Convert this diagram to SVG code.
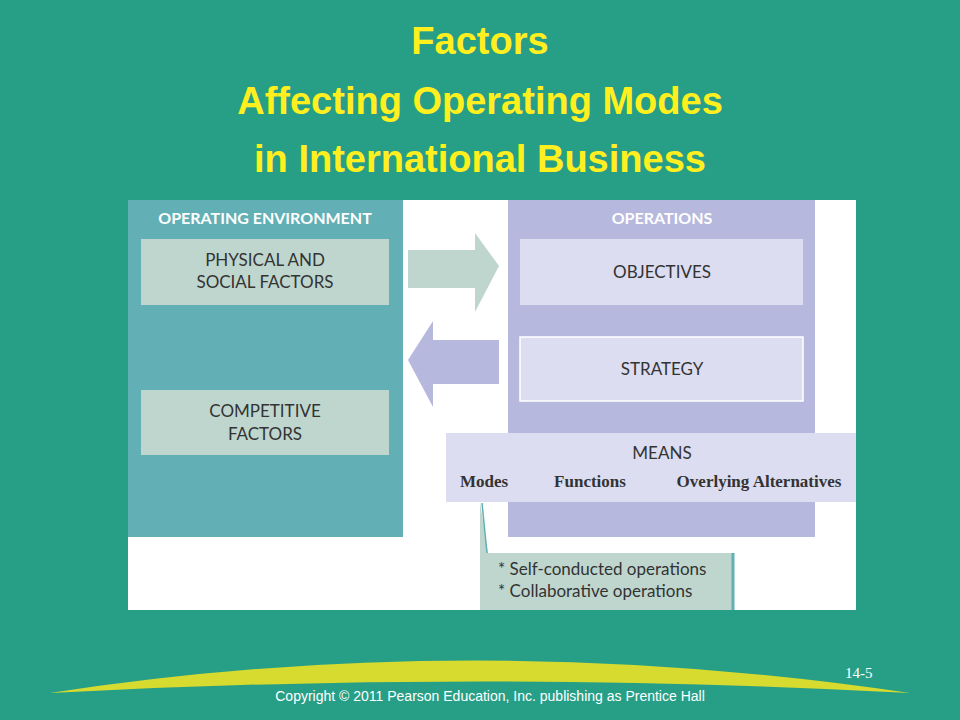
<svg xmlns="http://www.w3.org/2000/svg" width="960" height="720" viewBox="0 0 960 720">
<style>
.t{font-family:"Liberation Sans",Arial,sans-serif;font-weight:bold;fill:#FFEF1F;font-size:38px;text-anchor:middle}
.d{font-family:"Lato","Open Sans",sans-serif;fill:#333;font-size:17px;text-anchor:middle}
.h{font-family:"Lato","Open Sans",sans-serif;fill:#fff;font-size:16px;font-weight:bold;text-anchor:middle}
.m{font-family:"Liberation Serif",serif;fill:#333;font-size:17px;font-weight:bold;text-anchor:middle}
</style>
<rect width="960" height="720" fill="#279F87"/>
<text class="t" x="480" y="54">Factors</text>
<text class="t" x="480" y="114">Affecting Operating Modes</text>
<text class="t" x="480" y="172">in International Business</text>
<rect x="128" y="200" width="728" height="410" fill="#fff"/>
<g id="env">
<rect x="128" y="200" width="275" height="337" fill="#62AFB5"/>
<text class="h" x="265" y="224">OPERATING ENVIRONMENT</text>
</g>
<g id="physical"><rect x="141" y="239" width="248" height="66" fill="#BFD6CF"/>
<text class="d" x="265" y="266">PHYSICAL AND</text><text class="d" x="265" y="288">SOCIAL FACTORS</text></g>
<g id="competitive"><rect x="141" y="390" width="248" height="65" fill="#BFD6CF"/>
<text class="d" x="265" y="417">COMPETITIVE</text><text class="d" x="265" y="440">FACTORS</text></g>
<g id="operations"><rect x="508" y="200" width="307" height="337" fill="#B7B8DE"/>
<text class="h" x="662" y="224">OPERATIONS</text></g>
<g id="objectives"><rect x="520" y="239" width="283" height="66" fill="#DCDDF0"/>
<text class="d" x="662" y="278">OBJECTIVES</text></g>
<g id="strategy"><rect x="520" y="337" width="283" height="64" fill="#DCDDF0" stroke="#fff" stroke-width="1.5"/>
<text class="d" x="662" y="375">STRATEGY</text></g>
<g id="means"><rect x="446" y="433" width="410" height="69" fill="#DCDDF0"/>
<text class="d" x="662" y="459">MEANS</text>
<text class="m" x="484" y="487">Modes</text><text class="m" x="590" y="487">Functions</text><text class="m" x="759" y="487">Overlying Alternatives</text></g>
<g id="modes-note"><path d="M480 502 L488 553 L733 553 L733 610 L480 610 Z" fill="#BFD6CF"/>
<line x1="733" y1="553" x2="733" y2="610" stroke="#62AFB5" stroke-width="3"/>
<text x="498" y="575" style="font-family:Lato,sans-serif;font-size:17px;fill:#333">* Self-conducted operations</text>
<text x="498" y="597" style="font-family:Lato,sans-serif;font-size:17px;fill:#333">* Collaborative operations</text></g>
<g id="connectors">
<path d="M408 250 L475 250 L475 233 L499 266 L475 312 L475 288 L408 288 Z" fill="#BFD6CF"/>
<path d="M499 340 L433 340 L433 321 L408 360 L433 407 L433 384 L499 384 Z" fill="#B7B8DE"/>
<line x1="482" y1="503" x2="487" y2="553" stroke="#62AFB5" stroke-width="1.5"/>
</g>
<path d="M50 693 Q470 628 910 693 Q480 670 50 693 Z" fill="#D7DA2F"/>
<text x="845" y="678" style="font-family:'Liberation Serif',serif;font-size:15px;fill:#fff">14-5</text>
<text x="490" y="701" style="font-family:'Liberation Sans',sans-serif;font-size:14px;fill:#fff;text-anchor:middle">Copyright © 2011 Pearson Education, Inc. publishing as Prentice Hall</text>
</svg>
